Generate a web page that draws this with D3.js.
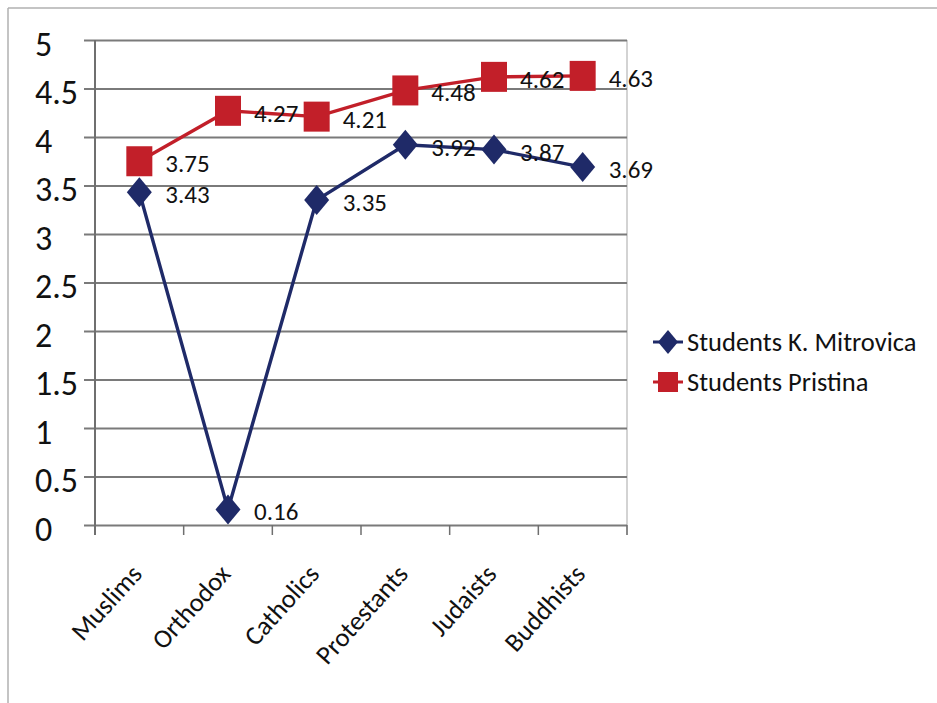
<!DOCTYPE html>
<html>
<head>
<meta charset="utf-8">
<script src="https://cdn.jsdelivr.net/npm/d3@7"></script>
<style>
  html, body { margin: 0; padding: 0; background: #fff; }
  svg { display: block; }
  text { font-family: Carlito, Lato, "Open Sans", sans-serif; fill: #222; }
</style>
</head>
<body>
<svg id="chart" width="937" height="703"></svg>
<script>
const categories = ["Muslims", "Orthodox", "Catholics", "Protestants", "Judaists", "Buddhists"];
const mitrovica = [3.43, 0.16, 3.35, 3.92, 3.87, 3.69];
const pristina = [3.75, 4.27, 4.21, 4.48, 4.62, 4.63];
const yTicks = [0, 0.5, 1, 1.5, 2, 2.5, 3, 3.5, 4, 4.5, 5];
const seriesNames = ["Students K. Mitrovica", "Students Pristina"];
const colors = ["#1F2A68", "#C21F29"];

const svg = d3.select("#chart");
const L = 95, R = 627, T = 40, B = 525;

// outer frame
svg.append("line").attr("x1", 8).attr("x2", 937).attr("y1", 8).attr("y2", 8)
  .attr("stroke", "#b0b0b0").attr("stroke-width", 1.5);
svg.append("line").attr("x1", 8).attr("x2", 8).attr("y1", 8).attr("y2", 703)
  .attr("stroke", "#b0b0b0").attr("stroke-width", 1.5);

const x = d3.scaleBand().domain(categories).range([L, R]).padding(0);
const y = d3.scaleLinear().domain([0, 5]).range([B, T]);
const cx = d => x(d) + x.bandwidth() / 2;

// right border of plot
svg.append("line").attr("x1", R).attr("x2", R).attr("y1", T).attr("y2", B + 10)
  .attr("stroke", "#c4c4c4").attr("stroke-width", 1.5);

// y axis with gridlines
const yAxis = svg.append("g").attr("transform", `translate(${L},0)`)
  .call(d3.axisLeft(y).tickValues(yTicks).tickFormat(d3.format("")).tickSizeOuter(0));
yAxis.select(".domain").remove();
yAxis.selectAll(".tick line")
  .attr("x1", -11).attr("x2", R - L)
  .attr("stroke", "#7a7a7a").attr("stroke-width", 2);
yAxis.selectAll(".tick text")
  .attr("x", 35 - L).attr("dy", null).attr("y", 15)
  .attr("text-anchor", "start")
  .style("font-size", "34px").style("fill", "#111");

// vertical axis line
svg.append("line").attr("x1", L).attr("x2", L).attr("y1", T).attr("y2", B + 10)
  .attr("stroke", "#6f6f6f").attr("stroke-width", 2);

// x-axis boundary ticks
const bounds = categories.map(d => x(d)).concat([x.range()[1]]);
svg.append("g").selectAll("line").data(bounds.slice(1)).join("line")
  .attr("x1", d => d).attr("x2", d => d).attr("y1", B).attr("y2", B + 10)
  .attr("stroke", "#6f6f6f").attr("stroke-width", 1.5);

// category labels
svg.append("g").selectAll("text").data(categories).join("text")
  .attr("transform", d => `translate(${cx(d) + 4},575) rotate(-48)`)
  .attr("text-anchor", "end")
  .style("font-size", "26.5px").style("fill", "#111")
  .text(d => d);

const line = d3.line().x((d, i) => cx(categories[i])).y(d => y(d));

function diamond(w, h) {
  return `M0,${-h}L${w},0L0,${h}L${-w},0Z`;
}

// series Pristina (red squares) first, then Mitrovica
[pristina, mitrovica].forEach((vals, k) => {
  const si = k === 0 ? 1 : 0;
  const g = svg.append("g");
  g.append("path").datum(vals).attr("d", line)
    .attr("fill", "none").attr("stroke", colors[si]).attr("stroke-width", 3.4);
  if (si === 1) {
    g.selectAll("rect").data(vals).join("rect")
      .attr("x", (d, i) => cx(categories[i]) - 13)
      .attr("y", d => y(d) - 15)
      .attr("width", 26).attr("height", 30)
      .attr("fill", colors[si]);
  } else {
    g.selectAll("path.m").data(vals).join("path").attr("class", "m")
      .attr("transform", (d, i) => `translate(${cx(categories[i])},${y(d)})`)
      .attr("d", diamond(12.5, 15))
      .attr("fill", colors[si]);
  }
});

// data labels
[mitrovica, pristina].forEach(vals => {
  svg.append("g").selectAll("text").data(vals).join("text")
    .attr("x", (d, i) => cx(categories[i]) + 26)
    .attr("y", d => y(d) + 11)
    .style("font-size", "25px").style("fill", "#111")
    .text(d => d3.format(".2f")(d));
});

// legend
const legend = svg.append("g");
seriesNames.forEach((name, i) => {
  const yy = 342 + i * 40;
  legend.append("line").attr("x1", 653).attr("x2", 683).attr("y1", yy).attr("y2", yy)
    .attr("stroke", colors[i]).attr("stroke-width", 3);
  if (i === 0) {
    legend.append("path").attr("transform", `translate(668,${yy})`)
      .attr("d", diamond(10, 12)).attr("fill", colors[i]);
  } else {
    legend.append("rect").attr("x", 658).attr("y", yy - 10).attr("width", 20).attr("height", 20)
      .attr("fill", colors[i]);
  }
  legend.append("text").attr("x", 687).attr("y", yy + 9)
    .style("font-size", "26.5px").style("fill", "#111").text(name);
});
</script>
</body>
</html>
